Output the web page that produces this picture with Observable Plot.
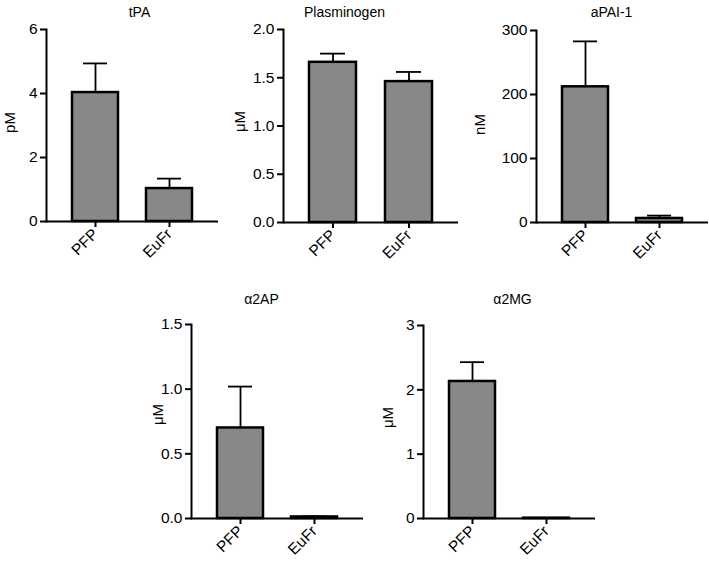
<!DOCTYPE html>
<html>
<head>
<meta charset="utf-8">
<script src="https://cdn.jsdelivr.net/npm/d3@7"></script>
<script src="https://cdn.jsdelivr.net/npm/@observablehq/plot@0.6"></script>
<style>
  html, body { margin: 0; padding: 0; background: #fff; }
  #wrap { position: relative; width: 709px; height: 566px; overflow: hidden; background: #fff; }
  #wrap svg { position: absolute; overflow: visible; }
</style>
</head>
<body>
<div id="wrap"></div>
<script>
// ---- data ----
const groups = ["PFP", "EuFr"];

const titles = ["tPA", "Plasminogen", "aPAI-1", "α2AP", "α2MG"];
const units = ["pM", "μM", "nM", "μM", "μM"];

const tpaMean = [4.03, 1.03];
const tpaErr = [0.91, 0.31];
const plgMean = [1.66, 1.46];
const plgErr = [0.09, 0.10];
const paiMean = [212, 6.3];
const paiErr = [71, 4.5];
const a2apMean = [0.70, 0.012];
const a2apErr = [0.32, 0.004];
const a2mgMean = [2.13, 0.005];
const a2mgErr = [0.30, 0.002];

const tpaTicks = [0, 2, 4, 6];
const plgTicks = [0, 0.5, 1.0, 1.5, 2.0];
const paiTicks = [0, 100, 200, 300];
const a2apTicks = [0, 0.5, 1.0, 1.5];
const a2mgTicks = [0, 1, 2, 3];

// ---- layout (px) ----
const panels = [
  {mean: tpaMean, err: tpaErr, ticks: tpaTicks, fmt: d3.format("d"),
   left: 0, top: 0, width: 236, height: 280, ml: 46, mr: 18, mt: 29, mb: 59,
   title: [139, 12], ylab: [10, 122]},
  {mean: plgMean, err: plgErr, ticks: plgTicks, fmt: d3.format(".1f"),
   left: 236, top: 0, width: 236, height: 280, ml: 47, mr: 14, mt: 29, mb: 58,
   title: [344, 12], ylab: [240, 121]},
  {mean: paiMean, err: paiErr, ticks: paiTicks, fmt: d3.format("d"),
   left: 472, top: 0, width: 237, height: 280, ml: 64, mr: 1, mt: 30, mb: 58,
   title: [611, 12], ylab: [480, 124]},
  {mean: a2apMean, err: a2apErr, ticks: a2apTicks, fmt: d3.format(".1f"),
   left: 140, top: 280, width: 240, height: 286, ml: 51, mr: 17, mt: 44, mb: 48,
   title: [261, 299], ylab: [158, 414]},
  {mean: a2mgMean, err: a2mgErr, ticks: a2mgTicks, fmt: d3.format("d"),
   left: 380, top: 280, width: 240, height: 286, ml: 43, mr: 25, mt: 45, mb: 48,
   title: [512, 299], ylab: [388, 417]}
];

const FONT = "'Liberation Sans', Arial, Helvetica, sans-serif";
const wrap = document.getElementById("wrap");

panels.forEach((p, i) => {
  const data = groups.map((g, j) => ({group: g, mean: p.mean[j], hi: p.mean[j] + p.err[j]}));
  const frameLeft = p.left + p.ml;
  const frameTop = p.top + p.mt;
  const ymax = p.ticks[p.ticks.length - 1];
  const chart = Plot.plot({
    width: p.width,
    height: p.height,
    marginLeft: p.ml,
    marginRight: p.mr,
    marginTop: p.mt,
    marginBottom: p.mb,
    style: {fontFamily: FONT, fontSize: "15px", color: "#000", background: "transparent", overflow: "visible"},
    x: {domain: groups, paddingInner: 0.38, paddingOuter: 0.34, label: null},
    y: {domain: [0, ymax], label: null},
    marks: [
      Plot.ruleX(data, {x: "group", y1: "mean", y2: "hi", stroke: "#000", strokeWidth: 1.8}),
      Plot.tickY(data, {x: "group", y: "hi", stroke: "#000", strokeWidth: 1.8, insetLeft: 11, insetRight: 11}),
      Plot.barY(data, {x: "group", y: "mean", fill: "#888888", stroke: "#000", strokeWidth: 2.5}),
      Plot.axisY({ticks: p.ticks, tickFormat: p.fmt, tickSize: 6, tickPadding: 3, strokeWidth: 2, fontSize: 15.5, label: null}),
      Plot.axisX({tickSize: 6, tickPadding: 4, tickRotate: -45, strokeWidth: 2, fontSize: 15.5, label: null}),
      Plot.frame({anchor: "left", strokeWidth: 2}),
      Plot.ruleY([0], {strokeWidth: 2}),
      Plot.text([titles[i]], {frameAnchor: "top-left", dx: p.title[0] - frameLeft, dy: p.title[1] - frameTop,
        textAnchor: "middle", lineAnchor: "middle", fontSize: 14, fill: "#000"}),
      Plot.text([units[i]], {frameAnchor: "top-left", dx: p.ylab[0] - frameLeft, dy: p.ylab[1] - frameTop,
        rotate: -90, textAnchor: "middle", lineAnchor: "middle", fontSize: 15, fill: "#000"})
    ]
  });
  chart.style.left = p.left + "px";
  chart.style.top = p.top + "px";
  wrap.appendChild(chart);
});
</script>
</body>
</html>
